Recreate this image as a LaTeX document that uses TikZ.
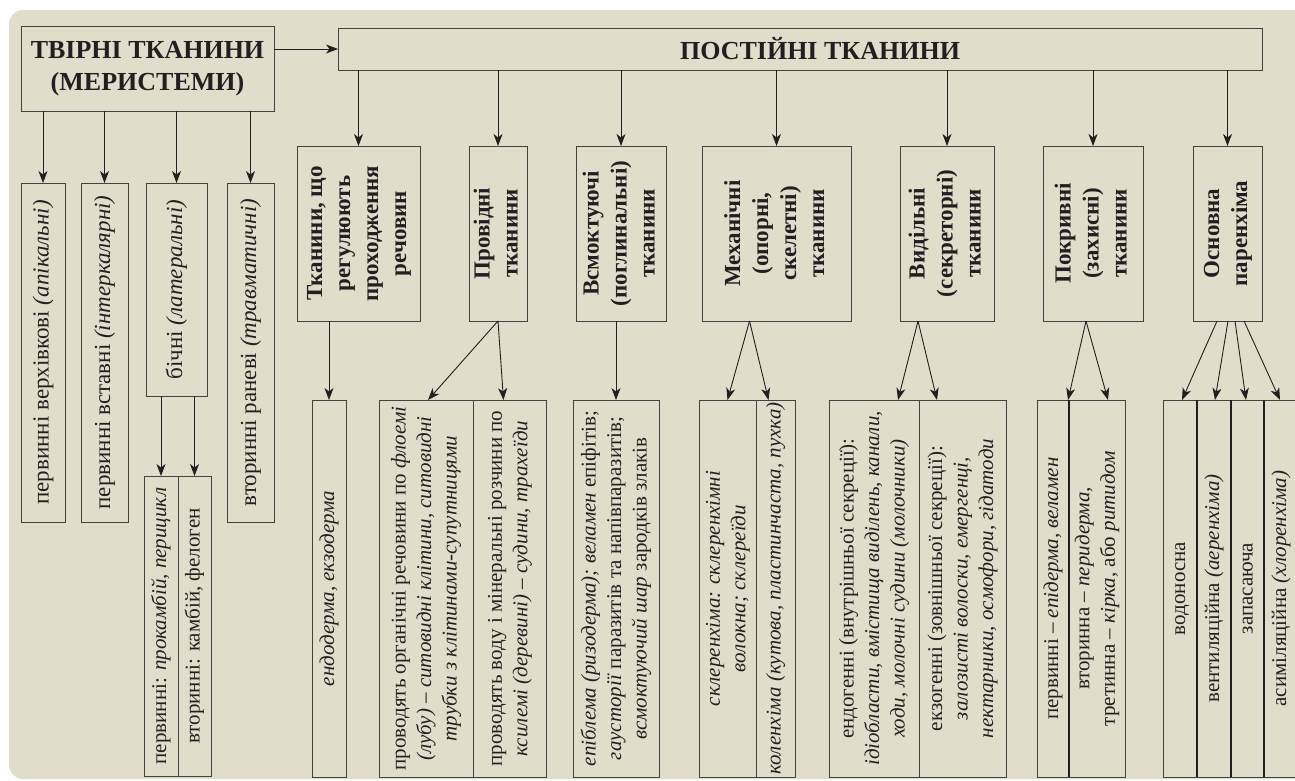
\documentclass[tikz,border=0pt]{standalone}
\usepackage{fontspec}
\setmainfont{Liberation Serif}
\usepackage{graphicx}
\usetikzlibrary{arrows.meta,calc}
\definecolor{panel}{RGB}{224,222,202}
\definecolor{ink}{RGB}{35,31,32}
\newcommand\vt[1]{\rotatebox{90}{\begin{tabular}{@{}c@{}}#1\end{tabular}}}
\tikzset{
  box/.style={draw=ink!85, line width=0.9pt, inner sep=0pt, outer sep=0pt, text=ink, anchor=center},
  arr/.style={draw=ink, line width=0.9pt, -{Stealth[length=12pt,width=9pt,inset=3.5pt]}},
  ttl/.style={font=\fontsize{26}{32}\selectfont\bfseries, align=center},
  hd/.style={font=\fontsize{23}{28}\selectfont\bfseries},
  lt/.style={font=\fontsize{23}{28}\selectfont},
  st/.style={font=\fontsize{21}{25.5}\selectfont},
  divider/.style={draw=ink, line width=1.7pt}
}
\begin{document}
\begin{tikzpicture}[x=1pt,y=-1pt]
\useasboundingbox (0,0) rectangle (1295,781);
\fill[panel, rounded corners=14pt] (9,10) rectangle (1330,779);

% top boxes
\node[box,ttl,minimum width=253pt,minimum height=85pt] (tv) at (147.5,68.5) {ТВІРНІ ТКАНИНИ\\(МЕРИСТЕМИ)};
\node[box,ttl,minimum width=924pt,minimum height=42pt] (pt) at (800,49) {\hspace*{40pt}ПОСТІЙНІ ТКАНИНИ};

% meristem boxes
\node[box,lt,minimum width=44pt,minimum height=339pt] (la) at (43,352.5) {\vt{первинні верхівкові \textit{(апікальні)}}};
\node[box,lt,minimum width=47pt,minimum height=339pt] (lb) at (104.5,352.5) {\vt{первинні вставні \textit{(інтеркалярні)}}};
\node[box,lt,minimum width=61pt,minimum height=213pt] (lc) at (176.5,289.5) {\vt{бічні \textit{(латеральні)}}};
\node[box,lt,minimum width=47pt,minimum height=339pt] (ld) at (250.5,352.5) {\vt{вторинні раневі \textit{(травматичні)}}};
\node[box,st,minimum width=34pt,minimum height=300pt] (lc1) at (161,626) {\vt{первинні: \textit{прокамбій, перицикл}}};
\node[box,st,minimum width=33pt,minimum height=300pt] (lc2) at (194.5,626) {\vt{вторинні: камбій, фелоген}};

% permanent tissue columns
\node[box,hd,minimum width=123pt,minimum height=175pt] (c1) at (358.5,233.5) {\vt{Тканини, що\\регулюють\\проходження\\речовин}};
\node[box,hd,minimum width=58pt,minimum height=175pt] (c2) at (498,233.5) {\vt{Провідні\\тканини}};
\node[box,hd,minimum width=90pt,minimum height=175pt] (c3) at (621,233.5) {\vt{Всмоктуючі\\(поглинальні)\\тканини}};
\node[box,hd,minimum width=149pt,minimum height=175pt] (c4) at (776.5,233.5) {\vt{Механічні\\(опорні,\\скелетні)\\тканини}};
\node[box,hd,minimum width=94pt,minimum height=175pt] (c5) at (947,233.5) {\vt{Видільні\\(секреторні)\\тканини}};
\node[box,hd,minimum width=100pt,minimum height=175pt] (c6) at (1093,233.5) {\vt{Покривні\\(захисні)\\тканини}};
\node[box,hd,minimum width=69pt,minimum height=175pt] (c7) at (1227.5,233.5) {\vt{Основна\\паренхіма}};

% bottom strips
\node[box,st,minimum width=34pt,minimum height=377pt] (b1) at (329,588.5) {\vt{\textit{ендодерма, екзодерма}}};
\node[box,st,minimum width=94pt,minimum height=377pt] (b2a) at (426,588.5) {\vt{проводять органічні речовини по \textit{флоемі}\\\textit{(лубу)} – \textit{ситовидні клітини, ситовидні}\\\textit{трубки з клітинами-супутницями}}};
\node[box,st,minimum width=73pt,minimum height=377pt] (b2b) at (509.5,588.5) {\vt{проводять воду і мінеральні розчини по\\\textit{ксилемі (деревині)} – \textit{судини, трахеїди}}};
\node[box,st,minimum width=86pt,minimum height=377pt] (b3) at (616,588.5) {\vt{\textit{епіблема (ризодерма);} \textit{веламен} епіфітів;\\\textit{гаусторії} паразитів та напівпаразитів;\\\textit{всмоктуючий шар} зародків злаків}};
\node[box,st,minimum width=57pt,minimum height=377pt] (b4a) at (727.5,588.5) {\vt{\textit{склеренхіма: склеренхімні}\\\textit{волокна; склереїди}}};
\node[box,st,minimum width=39pt,minimum height=377pt] (b4b) at (775.5,588.5) {\vt{\textit{коленхіма (кутова, пластинчаста, пухка)}}};
\node[box,st,minimum width=90pt,minimum height=377pt] (b5a) at (874,588.5) {\vt{ендогенні (внутрішньої секреції):\\\textit{ідіобласти, вмістища виділень, канали,}\\\textit{ходи, молочні судини (молочники)}}};
\node[box,st,minimum width=87pt,minimum height=377pt] (b5b) at (962.5,588.5) {\vt{екзогенні (зовнішньої секреції):\\\textit{залозисті волоски, емергенці,}\\\textit{нектарники, осмофори, гідатоди}}};
\node[box,st,minimum width=32pt,minimum height=377pt] (b6a) at (1053,588.5) {\vt{первинні – \textit{епідерма, веламен}}};
\node[box,st,minimum width=56pt,minimum height=377pt] (b6b) at (1097,588.5) {\vt{вторинна – \textit{перидерма,}\\третинна – \textit{кірка}, або \textit{ритидом}}};
\node[box,st,minimum width=34pt,minimum height=377pt] (b7a) at (1180,588.5) {\vt{водоносна}};
\node[box,st,minimum width=34pt,minimum height=377pt] (b7b) at (1214,588.5) {\vt{вентиляційна \textit{(аеренхіма)}}};
\node[box,st,minimum width=33pt,minimum height=377pt] (b7c) at (1247.5,588.5) {\vt{запасаюча}};
\node[box,st,minimum width=34pt,minimum height=377pt] (b7d) at (1281,588.5) {\vt{асиміляційна \textit{(хлоренхіма)}}};

% thicker dividers
\draw[divider] (b6a.north east) -- (b6a.south east);
\draw[divider] (b7a.north east) -- (b7a.south east);
\draw[divider] (b7b.north east) -- (b7b.south east);
\draw[divider] (b7c.north east) -- (b7c.south east);

% connectors
\draw[arr] (tv.east |- pt.west) -- (pt.west);
\foreach \n in {la,lb,lc,ld} \draw[arr] (\n.north |- tv.south) -- (\n.north);
\foreach \n in {lc1,lc2} \draw[arr] (\n.north |- lc.south) -- (\n.north);
\foreach \n in {c1,c2,c3,c4,c5,c6,c7} \draw[arr] (\n.north |- pt.south) -- (\n.north);
\draw[arr] (b1.north |- c1.south) -- (b1.north);
\draw[arr] (c2.south) -- ([xshift=2pt]b2a.north);
\draw[arr] (c2.south) -- ([xshift=-6pt]b2b.north);
\draw[arr] (b3.north |- c3.south) -- (b3.north);
\draw[arr] ([xshift=-27pt]c4.south) -- (b4a.north);
\draw[arr] ([xshift=-27pt]c4.south) -- ([xshift=-7pt]b4b.north);
\draw[arr] ([xshift=-29pt]c5.south) -- ([xshift=-21pt]b5a.north east);
\draw[arr] ([xshift=-29pt]c5.south) -- ([xshift=18pt]b5a.north east);
\draw[arr] ([xshift=-7pt]c6.south) -- ([xshift=-1pt]b6a.north east);
\draw[arr] ([xshift=-7pt]c6.south) -- ([xshift=11pt]b6b.north);
\draw[arr] ([xshift=-10.5pt]c7.south) -- ([xshift=2pt]b7a.north);
\draw[arr] ([xshift=0.5pt]c7.south) -- ([xshift=1pt]b7b.north);
\draw[arr] ([xshift=7.5pt]c7.south) -- ([xshift=-1.5pt]b7c.north);
\draw[arr] ([xshift=16.5pt]c7.south) -- ([xshift=-1pt]b7d.north);
\end{tikzpicture}
\end{document}
